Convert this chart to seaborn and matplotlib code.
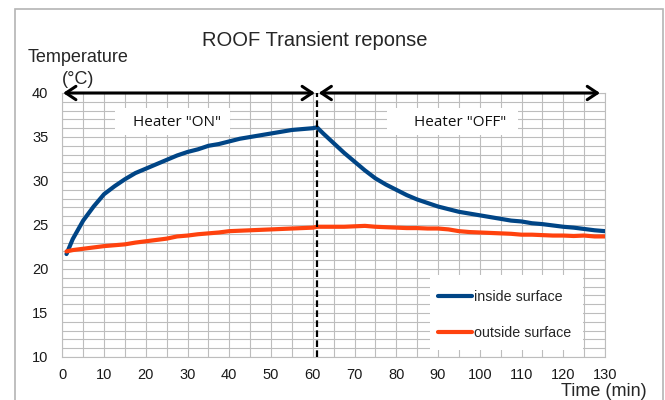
import numpy as np
import matplotlib
matplotlib.use("Agg")

import matplotlib.pyplot as plt
import matplotlib.ticker as mticker
from matplotlib.patches import Rectangle
import pandas as pd
import seaborn as sns


time_min = [1, 2.5, 5, 7.5, 10, 12.5, 15, 17.5, 20, 22.5, 25, 27.5, 30, 32.5,
            35, 37.5, 40, 42.5, 45, 47.5, 50, 52.5, 55, 57.5, 60, 61, 62.5, 65,
            67.5, 70, 72.5, 75, 77.5, 80, 82.5, 85, 87.5, 90, 92.5, 95, 97.5,
            100, 102.5, 105, 107.5, 110, 112.5, 115, 117.5, 120, 122.5, 125,
            127.5, 130]

inside_surface = [21.7, 23.4, 25.5, 27.1, 28.5, 29.4, 30.2, 30.9, 31.4, 31.9,
                  32.4, 32.9, 33.3, 33.6, 34.0, 34.2, 34.5, 34.8, 35.0, 35.2,
                  35.4, 35.6, 35.8, 35.9, 36.0, 36.1, 35.4, 34.3, 33.2, 32.2,
                  31.2, 30.3, 29.6, 29.0, 28.4, 27.9, 27.5, 27.1, 26.8, 26.5,
                  26.3, 26.1, 25.9, 25.7, 25.5, 25.4, 25.2, 25.1, 24.95, 24.8,
                  24.7, 24.55, 24.4, 24.3]

outside_surface = [22.0, 22.15, 22.3, 22.45, 22.6, 22.7, 22.8, 23.0, 23.15,
                   23.3, 23.45, 23.7, 23.8, 23.95, 24.05, 24.15, 24.3, 24.35,
                   24.4, 24.45, 24.5, 24.55, 24.6, 24.65, 24.7, 24.8, 24.8,
                   24.8, 24.8, 24.85, 24.9, 24.8, 24.75, 24.7, 24.65, 24.65,
                   24.6, 24.6, 24.5, 24.3, 24.2, 24.15, 24.1, 24.05, 24.0,
                   23.9, 23.9, 23.85, 23.8, 23.8, 23.75, 23.8, 23.7, 23.7]

series_names = ["inside surface", "outside surface"]
series_colors = ["#004586", "#ff420e"]

heater_switch_min = 61
x_ticks = list(range(0, 131, 10))
y_ticks = list(range(10, 41, 5))


def main() -> None:
    sns.set_style("white")
    plt.rcParams["font.family"] = ["Liberation Sans", "DejaVu Sans"]

    df = pd.DataFrame({
        "time": time_min * 2,
        "temp": inside_surface + outside_surface,
        "series": [series_names[0]] * len(time_min) + [series_names[1]] * len(time_min),
    })

    fig = plt.figure(figsize=(6.65, 4.0), dpi=100)
    fig.subplots_adjust(left=0.0937, right=0.9098, bottom=0.1075, top=0.7675)
    ax = fig.add_subplot(111)

    grid_c = "#bdbdbd"
    ax.set_axisbelow(True)

    sns.lineplot(data=df, x="time", y="temp", hue="series",
                 palette=dict(zip(series_names, series_colors)),
                 linewidth=3.0, ax=ax, legend=False, zorder=3)

    ax.set_xlim(0, 130)
    ax.set_ylim(10, 40)
    ax.xaxis.set_major_locator(mticker.FixedLocator(x_ticks))
    ax.xaxis.set_minor_locator(mticker.MultipleLocator(5))
    ax.yaxis.set_major_locator(mticker.FixedLocator(y_ticks))
    ax.yaxis.set_minor_locator(mticker.MultipleLocator(1))
    ax.grid(True, which="both", color=grid_c, linewidth=0.8)
    ax.set_xlabel("")
    ax.set_ylabel("")
    for s in ax.spines.values():
        s.set_color(grid_c)
        s.set_linewidth(0.8)
    ax.tick_params(axis="both", which="major", direction="out", length=3,
                   color=grid_c, labelsize=10.5, labelcolor="#1a1a1a")
    ax.tick_params(axis="x", which="major", pad=5)
    ax.tick_params(axis="y", which="major", pad=7)
    ax.tick_params(axis="x", which="minor", direction="out", length=3, color=grid_c)
    ax.tick_params(axis="y", which="minor", length=0)

    # white boxes behind the heater labels
    for x0, x1 in [(12.6, 40.2), (77.8, 109.1)]:
        ax.add_patch(Rectangle((x0, 35.2), x1 - x0, 3.1, facecolor="white",
                               edgecolor="none", zorder=1))
    ax.text(27.4, 36.6, 'Heater "ON"', ha="center", va="center", color="#111111",
            fontsize=11, family=["Open Sans", "DejaVu Sans"], zorder=2)
    ax.text(95.2, 36.6, 'Heater "OFF"', ha="center", va="center", color="#111111",
            fontsize=11, family=["Open Sans", "DejaVu Sans"], zorder=2)

    # heater on / off arrows and switch line
    arrow = dict(arrowstyle="<->,head_length=0.6,head_width=0.4", lw=2.2,
                 color="black", mutation_scale=12, shrinkA=0, shrinkB=0)
    ax.annotate("", xy=(0.2, 40), xytext=(60.5, 40), arrowprops=arrow, zorder=5)
    ax.annotate("", xy=(61.4, 40), xytext=(128.8, 40), arrowprops=arrow, zorder=5)
    ax.axvline(heater_switch_min, color="black", linestyle=(0, (3, 1.5)),
               linewidth=1.6, zorder=4)

    # legend on a white panel
    ax.add_patch(Rectangle((0.6775, 0.027), 0.2815, 0.283, transform=ax.transAxes,
                           facecolor="white", edgecolor="none", zorder=1))
    handles = [plt.Line2D([], [], color=c, linewidth=3.0) for c in series_colors]
    ax.legend(handles, series_names, loc="upper left", bbox_to_anchor=(0.692, 0.254),
              frameon=False, borderpad=0, borderaxespad=0, handlelength=2.4,
              handletextpad=0.15, labelspacing=1.55, fontsize=10.3)

    fig.text(315 / 665, 1 - 40 / 400, "ROOF Transient reponse", ha="center",
             va="center", fontsize=14.5)
    fig.text(78.5 / 665, 1 - 57 / 400, "Temperature", ha="center", va="center",
             fontsize=13)
    fig.text(78 / 665, 1 - 79 / 400, "(°C)", ha="center", va="center", fontsize=13)
    fig.text(604 / 665, 1 - 392 / 400, "Time (min)", ha="center", va="center",
             fontsize=13)

    fig.add_artist(Rectangle((15 / 665, -0.1), 648 / 665, 1 - 9 / 400 + 0.1,
                             transform=fig.transFigure, fill=False,
                             edgecolor="#b4b4b4", linewidth=1.2))

    fig.savefig("out.png", dpi=100, facecolor="white")
    plt.close(fig)


if __name__ == "__main__":
    main()
